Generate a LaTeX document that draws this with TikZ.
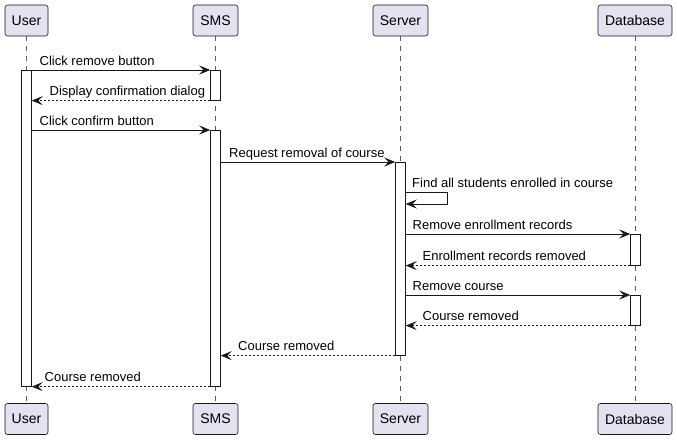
\documentclass[tikz,border=0pt]{standalone}
\usepackage{fontspec}
\setmainfont{Liberation Sans}
\usetikzlibrary{arrows.meta}
\definecolor{partfill}{HTML}{E2E2F0}
\definecolor{ink}{HTML}{181818}
\tikzset{
  part/.style={draw=ink, fill=partfill, line width=0.6pt, rounded corners=2.5pt,
    minimum height=31pt, inner sep=0pt, font=\fontsize{14}{16}\selectfont, text=black},
  life/.style={draw=ink!70, line width=0.5pt, dash pattern=on 5pt off 5pt},
  act/.style={draw=ink, fill=white, line width=0.6pt, minimum width=10pt, inner sep=0pt, anchor=north},
  msg/.style={draw=ink, line width=0.6pt, -{Stealth[length=11pt,width=9pt,inset=4.5pt]}},
  ret/.style={msg, dash pattern=on 2pt off 2pt},
  lbl/.style={anchor=base west, inner sep=0pt, font=\fontsize{13}{15}\selectfont, text=black}
}
\begin{document}
\begin{tikzpicture}[x=1pt,y=-1pt]
\useasboundingbox (0,0) rectangle (677,440);
% lifelines
\node[part, minimum width=43pt] (ut) at (26.5,20.5) {User};
\node[part, minimum width=45pt] (st) at (215.5,20.5) {SMS};
\node[part, minimum width=55pt] (vt) at (400.5,20.5) {Server};
\node[part, minimum width=74pt] (dt) at (635,20.5) {Database};
\node[part, minimum width=43pt] (ub) at (26.5,419) {User};
\node[part, minimum width=45pt] (sb) at (215.5,419) {SMS};
\node[part, minimum width=55pt] (vb) at (400.5,419) {Server};
\node[part, minimum width=74pt] (db) at (635,419) {Database};
\draw[life] (ut) -- (ub);
\draw[life] (st) -- (sb);
\draw[life] (vt) -- (vb);
\draw[life] (dt) -- (db);
% activations
\node[act, minimum height=316pt] (ua) at (26.5,70) {};
\node[act, minimum height=30pt] (sa1) at (215.5,70) {};
\node[act, minimum height=256pt] (sa2) at (215.5,130) {};
\node[act, minimum height=193pt] (va) at (400.5,162) {};
\node[act, minimum height=31pt] (da1) at (635.5,234) {};
\node[act, minimum height=30pt] (da2) at (635.5,295) {};
% messages
\draw[msg] (ua.north east) -- (sa1.north west);
\node[lbl] (m1) at (39.5,65) {Click remove button};
\draw[ret] (sa1.south west) -- (ua.east |- sa1.south);
\node[lbl] (m2) at (49.5,95) {Display confirmation dialog};
\draw[msg] (ua.east |- sa2.north) -- (sa2.north west);
\node[lbl] (m3) at (39.5,125.5) {Click confirm button};
\draw[msg] (sa2.east |- va.north) -- (va.north west);
\node[lbl] (m4) at (229,157) {Request removal of course};
\coordinate (s1) at (447,192);
\coordinate (s2) at (447,204);
\draw[msg] (va.east |- s1) -- (s1) -- (s2) -- (va.east |- s2);
\node[lbl] (m5) at (412,187.5) {Find all students enrolled in course};
\draw[msg] (va.east |- da1.north) -- (da1.north west);
\node[lbl] (m6) at (412.5,229.5) {Remove enrollment records};
\draw[ret] (da1.south west) -- (va.east |- da1.south);
\node[lbl] (m7) at (422.5,260) {Enrollment records removed};
\draw[msg] (va.east |- da2.north) -- (da2.north west);
\node[lbl] (m8) at (412.5,290.5) {Remove course};
\draw[ret] (da2.south west) -- (va.east |- da2.south);
\node[lbl] (m9) at (422.5,320.5) {Course removed};
\draw[ret] (va.south west) -- (sa2.east |- va.south);
\node[lbl] (m10) at (238,350.5) {Course removed};
\draw[ret] (sa2.south west) -- (ua.south east);
\node[lbl] (m11) at (44.5,381) {Course removed};
\end{tikzpicture}
\end{document}
